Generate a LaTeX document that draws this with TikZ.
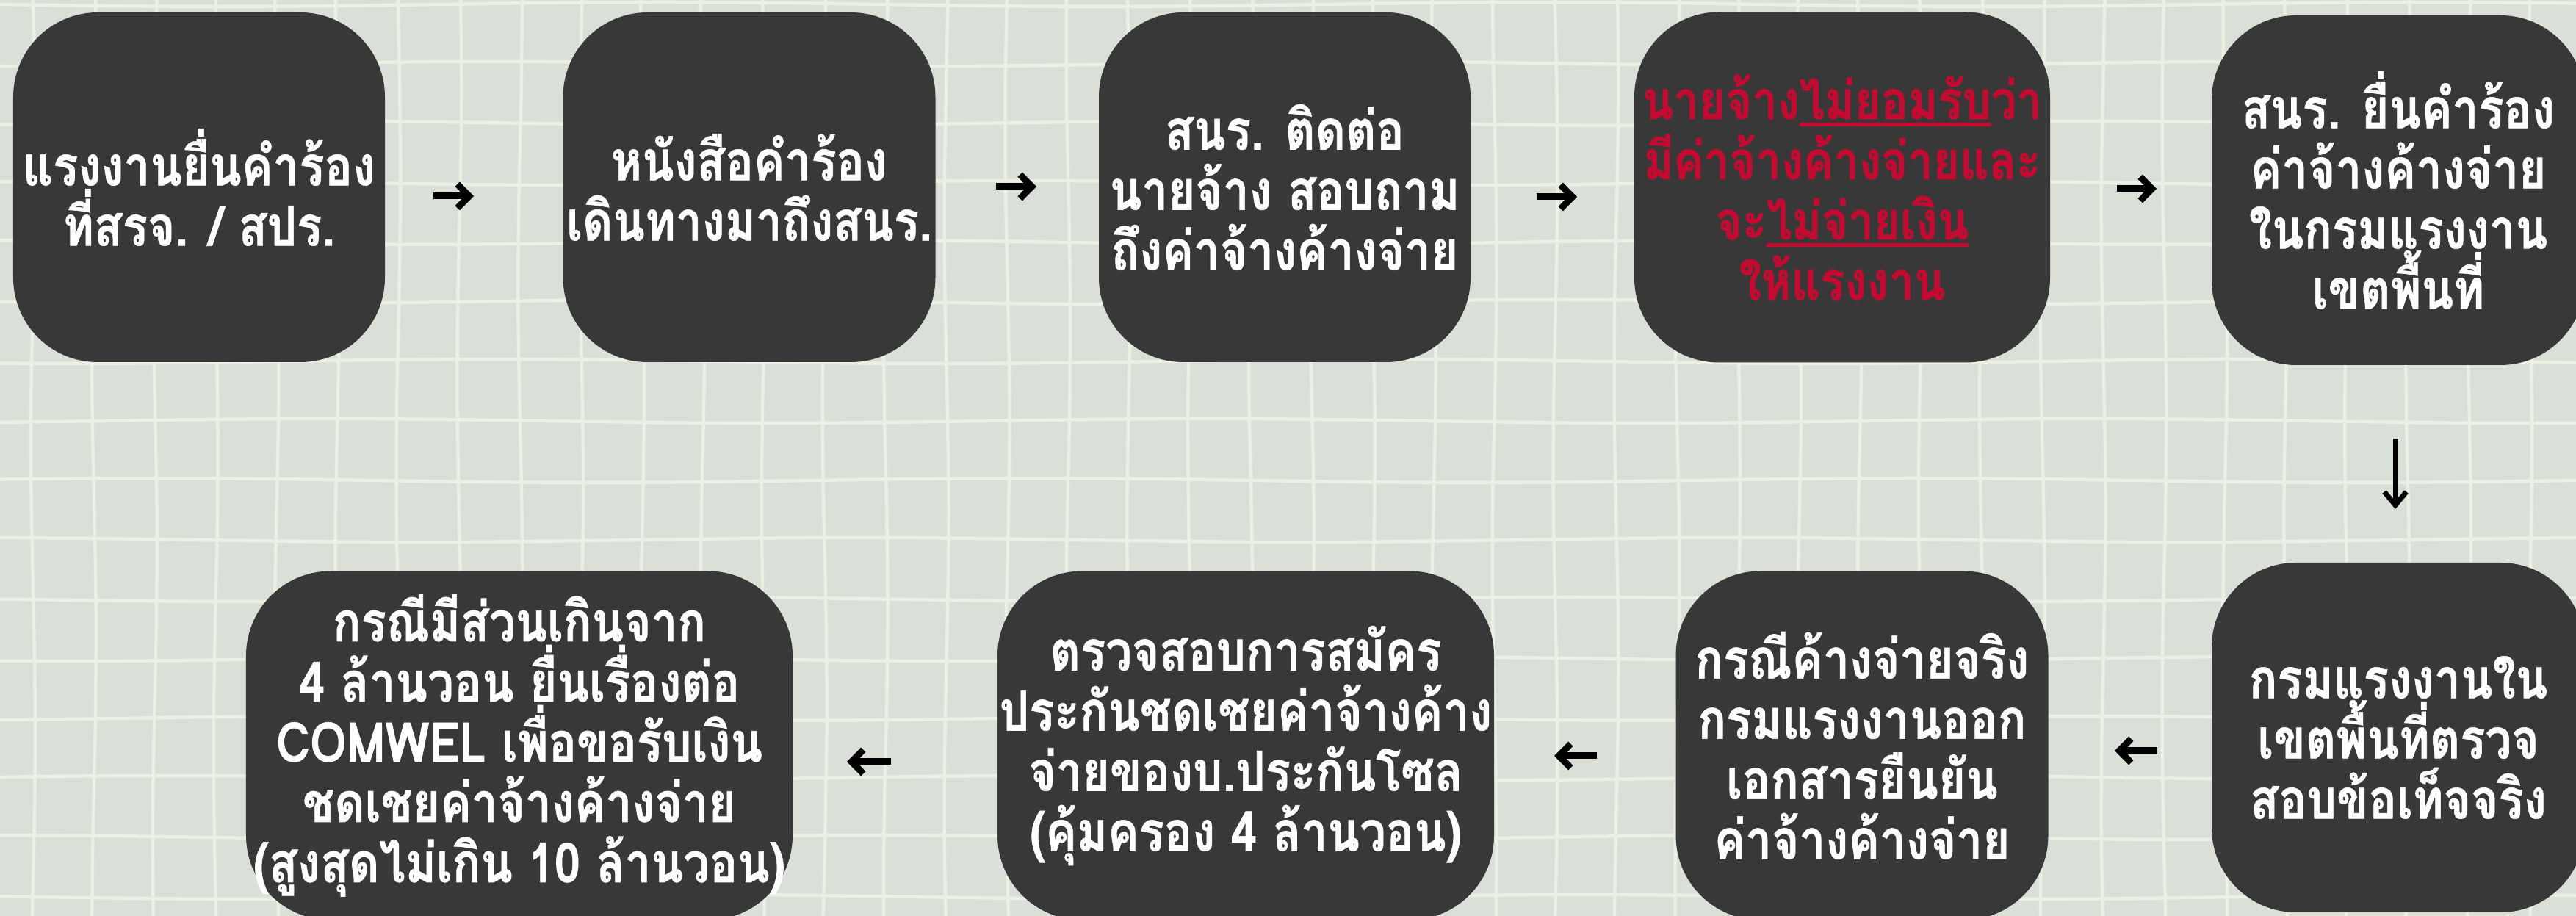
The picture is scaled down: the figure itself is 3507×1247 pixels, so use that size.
\documentclass[tikz,border=0pt]{standalone}
\usepackage{fontspec}
\newfontfamily\thaifont[Script=Thai,FakeStretch=0.85,BoldFeatures={FakeBold=0.8}]{Loma}
\usetikzlibrary{arrows.meta}
\definecolor{bgc}{HTML}{DAE0D8}
\definecolor{gridc}{HTML}{EBF0E4}
\definecolor{boxc}{HTML}{383838}
\definecolor{redc}{HTML}{C30B32}
\newsavebox\ulbox
\newcommand\ulx[1]{\sbox\ulbox{#1}\rlap{\rule[-2pt]{\wd\ulbox}{1pt}}\usebox\ulbox}
\begin{document}
\begin{tikzpicture}[x=0.2pt,y=-0.2pt,
  box/.style={draw=none,fill=boxc,rectangle,rounded corners=23pt,inner sep=0pt,
    text=white,align=center,font=\thaifont\bfseries\fontsize{15}{16.4}\selectfont},
  redbox/.style={box,text=redc,font=\thaifont\bfseries\fontsize{14.5}{16.4}\selectfont},
  gridline/.style={draw=gridc,line width=0.9pt},
  arr/.style={line width=1.8pt,-{Straight Barb[length=3.2pt,width=6.5pt]}},
  darr/.style={line width=1.4pt,-{Straight Barb[length=3.6pt,width=6pt]}}]
\useasboundingbox (0,0) rectangle (3507,1247);
\begin{scope}
\clip (0,0) rectangle (3507,1247);
\fill[bgc] (0,0) rectangle (3507,1247);
\foreach \k in {0,...,42}{
  \pgfmathsetmacro\gx{45+82.9*\k}
  \draw[gridline] plot[smooth,domain=-20:1270,samples=10,variable=\t]
    ({\gx+3*sin(\t*0.45+\k*57)},{\t});
}
\foreach \k in {0,...,15}{
  \pgfmathsetmacro\gy{6+81*\k}
  \draw[gridline] plot[smooth,domain=-20:3530,samples=24,variable=\t]
    ({\t},{\gy+3*sin(\t*0.3+\k*71)});
}
% top row
\node[box,minimum width=101.2pt,minimum height=95.2pt] (b1) at (271,255)
  {แรงงานยื่นคำร้อง\\ที่สรจ. / สปร.};
\node[box,minimum width=101.4pt,minimum height=95.2pt] (b2) at (1020,255)
  {หนังสือคำร้อง\\เดินทางมาถึงสนร.};
\node[box,minimum width=101.2pt,minimum height=95.2pt] (b3) at (1749,255)
  {สนร. ติดต่อ\\นายจ้าง สอบถาม\\ถึงค่าจ้างค้างจ่าย};
\node[redbox,minimum width=113.2pt,minimum height=95.4pt] (b4) at (2508,255)
  {นายจ้าง\ulx{ไม่ยอมรับ}ว่า\\มีค่าจ้างค้างจ่ายและ\\จะ\ulx{ไม่จ่ายเงิน}\\ให้แรงงาน};
\node[box,minimum width=101.6pt,minimum height=95.2pt] (b5) at (3265,259)
  {สนร. ยื่นคำร้อง\\ค่าจ้างค้างจ่าย\\ในกรมแรงงาน\\เขตพื้นที่};
% bottom row
\node[box,minimum width=101.6pt,minimum height=95.2pt] (b6) at (3265,1004)
  {กรมแรงงานใน\\เขตพื้นที่ตรวจ\\สอบข้อเท็จจริง};
\node[box,minimum width=101.4pt,minimum height=95pt] (b7) at (2535,1015)
  {กรณีค้างจ่ายจริง\\กรมแรงงานออก\\เอกสารยืนยัน\\ค่าจ้างค้างจ่าย};
\node[box,minimum width=135.2pt,minimum height=95pt] (b8) at (1696,1015)
  {ตรวจสอบการสมัคร\\ประกันชดเชยค่าจ้างค้าง\\จ่ายของบ.ประกันโซล\\(คุ้มครอง 4 ล้านวอน)};
\node[box,minimum width=148.8pt,minimum height=95pt] (b9) at (707,1015)
  {กรณีมีส่วนเกินจาก\\4 ล้านวอน ยื่นเรื่องต่อ\\COMWEL เพื่อขอรับเงิน\\ชดเชยค่าจ้างค้างจ่าย\\(สูงสุดไม่เกิน 10 ล้านวอน)};
% arrow end points
\coordinate (a1s) at (590,267);  \coordinate (a1e) at (645,267);
\coordinate (a2s) at (1356,254); \coordinate (a2e) at (1411,254);
\coordinate (a3s) at (2092,268); \coordinate (a3e) at (2147,268);
\coordinate (a4s) at (2882,257); \coordinate (a4e) at (2936,257);
\coordinate (a5s) at (3261,597); \coordinate (a5e) at (3261,693);
\coordinate (a6s) at (2937,1022); \coordinate (a6e) at (2879,1022);
\coordinate (a7s) at (2174,1029); \coordinate (a7e) at (2116,1029);
\coordinate (a8s) at (1213,1037); \coordinate (a8e) at (1153,1037);
\draw[arr] (a1s) -- (a1e);
\draw[arr] (a2s) -- (a2e);
\draw[arr] (a3s) -- (a3e);
\draw[arr] (a4s) -- (a4e);
\draw[darr] (a5s) -- (a5e);
\draw[arr] (a6s) -- (a6e);
\draw[arr] (a7s) -- (a7e);
\draw[arr] (a8s) -- (a8e);
\end{scope}
\end{tikzpicture}
\end{document}
